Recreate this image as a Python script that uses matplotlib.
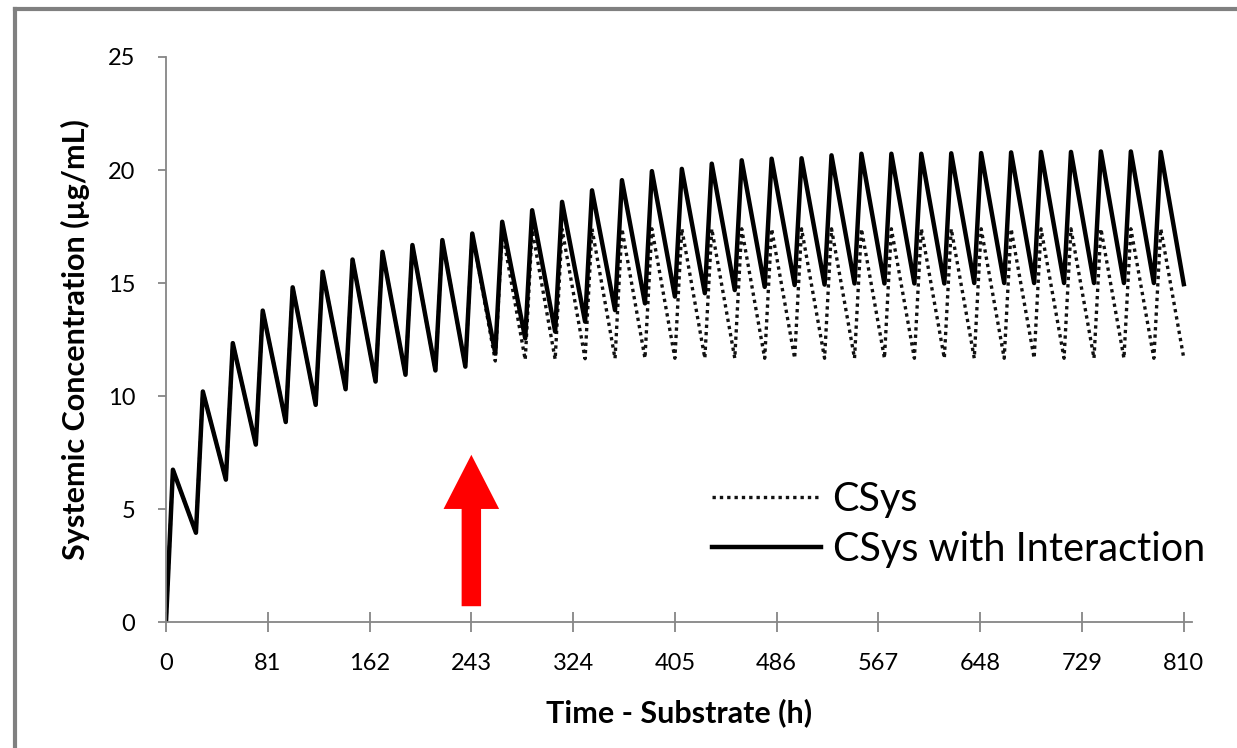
import numpy as np
import matplotlib
matplotlib.use("Agg")
import matplotlib.pyplot as plt
from matplotlib.lines import Line2D

# Systemic concentration, one peak and one trough per dosing cycle
n_doses = 34
dose_interval = 810 / n_doses      # h, 34 doses over the 810 h run
peak_delay = 5.5                   # h after each dose

csys_int_peaks = [6.74, 10.2, 12.34, 13.78, 14.81, 15.5, 16.04, 16.38, 16.68, 16.9,
                  17.19, 17.71, 18.22, 18.59, 19.1, 19.55, 19.95, 20.05, 20.28, 20.43,
                  20.5, 20.52, 20.65, 20.72, 20.72, 20.72, 20.74, 20.75, 20.78, 20.8,
                  20.8, 20.82, 20.82, 20.8]
csys_int_troughs = [3.95, 6.3, 7.85, 8.85, 9.61, 10.3, 10.64, 10.94, 11.13, 11.3,
                    11.89, 12.55, 12.85, 13.29, 13.8, 14.1, 14.4, 14.55, 14.69, 14.83,
                    14.91, 14.93, 14.98, 14.98, 14.98, 14.98, 15.0, 15.0, 15.0, 15.0,
                    15.0, 15.0, 15.0, 14.95]

csys_peaks = [6.74, 10.2, 12.34, 13.78, 14.81, 15.5, 16.04, 16.38, 16.68, 16.9,
              17.19, 17.3, 17.35, 17.38, 17.4, 17.4, 17.4, 17.4, 17.4, 17.4,
              17.4, 17.4, 17.4, 17.4, 17.4, 17.4, 17.4, 17.4, 17.4, 17.4,
              17.4, 17.4, 17.4, 17.4]
csys_troughs = [3.95, 6.3, 7.85, 8.85, 9.61, 10.3, 10.64, 10.94, 11.13, 11.3,
                11.55, 11.6, 11.62, 11.65, 11.66, 11.67, 11.67, 11.67, 11.67, 11.67,
                11.67, 11.67, 11.67, 11.67, 11.67, 11.67, 11.67, 11.67, 11.67, 11.67,
                11.67, 11.67, 11.67, 11.67]

x_ticks = [0, 81, 162, 243, 324, 405, 486, 567, 648, 729, 810]
y_ticks = [0, 5, 10, 15, 20, 25]
interaction_start = 243            # h, red arrow


def sawtooth(peaks, troughs):
    # trough at each dose time, peak shortly after, decay to the next trough
    doses = np.arange(n_doses) * dose_interval
    t = [0.0]
    c = [0.0]
    for k in range(n_doses):
        t += [doses[k] + peak_delay, doses[k] + dose_interval]
        c += [peaks[k], troughs[k]]
    return np.array(t), np.array(c)


plt.rcParams['font.family'] = ['Lato', 'DejaVu Sans']

fig = plt.figure(figsize=(12.37, 7.48), dpi=100)
ax = fig.add_axes([0.1342, 0.1684, 0.8294, 0.7554])

t1, c1 = sawtooth(csys_peaks, csys_troughs)
t2, c2 = sawtooth(csys_int_peaks, csys_int_troughs)
ax.plot(t1, c1, color='#111111', lw=2.4, linestyle=(0, (1, 1.2)), label='CSys')
ax.plot(t2, c2, color='black', lw=3.2, solid_joinstyle='round',
        label='CSys with Interaction')

# red arrow marking start of interaction
ax.annotate('', xy=(interaction_start, 7.4), xytext=(interaction_start, 0.7),
            arrowprops=dict(arrowstyle='simple,head_length=39,head_width=40,tail_width=14',
                            mutation_scale=1, color='red', shrinkA=0, shrinkB=0, lw=0))

ax.set_xlim(0, 816.5)
ax.set_ylim(0, 25)
ax.set_xticks(x_ticks)
ax.set_yticks(y_ticks)

axis_grey = '#868686'
for s in ['top', 'right']:
    ax.spines[s].set_visible(False)
for s in ['left', 'bottom']:
    ax.spines[s].set_color(axis_grey)
    ax.spines[s].set_linewidth(1.3)
ax.tick_params(axis='x', direction='inout', length=14, width=1.3, color=axis_grey,
               labelsize=17, pad=15)
ax.tick_params(axis='y', direction='out', length=6, width=1.3, color=axis_grey,
               labelsize=17, pad=16)

ax.set_xlabel('Time - Substrate (h)', fontsize=22, fontweight='bold')
ax.set_ylabel('Systemic Concentration (µg/mL)', fontsize=22, fontweight='bold')
ax.xaxis.set_label_coords(0.5, -0.135)
ax.yaxis.set_label_coords(-0.074, 0.5)

ax.legend(loc='center left', bbox_to_anchor=(0.532, 0.1726), frameon=False,
          fontsize=28.5, handlelength=2.75, handletextpad=0.3, labelspacing=0.33,
          borderpad=0, borderaxespad=0)

# chart frame (top and left edges visible)
fig.add_artist(Line2D([15 / 1237, 1], [1 - 9 / 748, 1 - 9 / 748], color='#808080', lw=3))
fig.add_artist(Line2D([15 / 1237, 15 / 1237], [0, 1 - 9 / 748], color='#808080', lw=3))

fig.savefig('out.png', dpi=100)
